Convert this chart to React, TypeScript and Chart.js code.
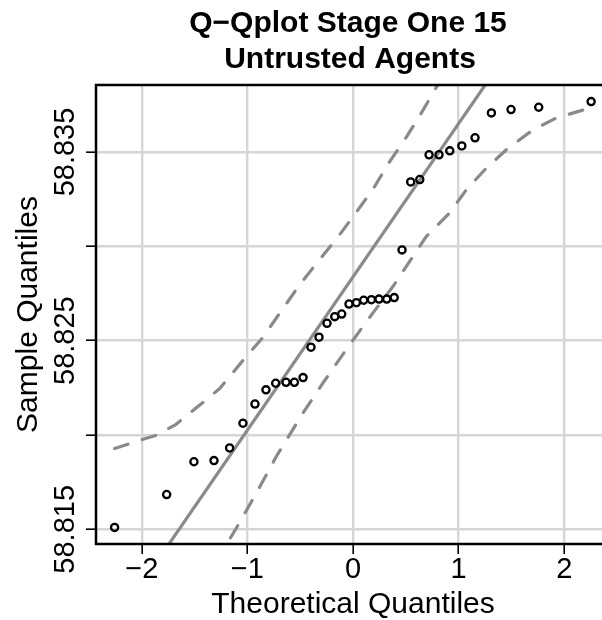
import React, { useEffect, useRef } from "react";
import { Chart, registerables } from "chart.js";

Chart.register(...registerables);

const titleLines = ["Q\u2212Qplot Stage One 15", "Untrusted Agents"];
const xTitle = "Theoretical Quantiles";
const yTitle = "Sample Quantiles";

const xTicks = [-2, -1, 0, 1, 2];
const xTickLabels = ["\u22122", "\u22121", "0", "1", "2"];
const yTicks = [58.815, 58.82, 58.825, 58.83, 58.835];
const yTickLabels = ["58.815", "", "58.825", "", "58.835"];

const theoretical = [
  -2.257, -1.764, -1.506, -1.316, -1.168, -1.042, -0.928, -0.824, -0.732,
  -0.634, -0.555, -0.473, -0.398, -0.322, -0.246, -0.173, -0.107, -0.038,
  0.032, 0.101, 0.174, 0.246, 0.319, 0.39, 0.464, 0.546, 0.632, 0.72, 0.814,
  0.916, 1.03, 1.155, 1.31, 1.496, 1.758, 2.254,
];
const sample = [
  58.8151, 58.81684, 58.81858, 58.81864, 58.81931, 58.82062, 58.82164,
  58.82239, 58.82274, 58.82279, 58.82279, 58.82304, 58.82465, 58.82518,
  58.82592, 58.82627, 58.82641, 58.82694, 58.82701, 58.82714, 58.82717,
  58.8272, 58.8272, 58.82728, 58.82981, 58.83341, 58.83354, 58.83485,
  58.83485, 58.83506, 58.83532, 58.83575, 58.83707, 58.83725, 58.83737,
  58.83767,
];

const qqIntercept = 58.82838;
const qqSlope = 0.008128;

const upperX = [
  -2.257, -2.0, -1.859, -1.679, -1.48, -1.262, -1.044, -0.855, -0.505, -0.126,
  0.0, 0.186, 0.347, 0.508, 0.66, 0.792, 1.01,
];
const upperY = [
  58.81928, 58.81975, 58.81999, 58.82055, 58.82145, 58.82246, 58.82394,
  58.82516, 58.82797, 58.83062, 58.83157, 58.833, 58.83449, 58.83581,
  58.83719, 58.83846, 58.84032,
];
const lowerX = [
  -1.3, -1.198, -1.104, -0.914, -0.725, -0.473, -0.284, -0.031, 0.189, 0.379,
  0.505, 0.695, 0.915, 1.073, 1.263, 1.452, 1.704, 1.925, 2.24,
];
const lowerY = [
  58.81323, 58.81419, 58.81507, 58.81693, 58.81887, 58.82117, 58.82276,
  58.82479, 58.82647, 58.82788, 58.82894, 58.83053, 58.83177, 58.833,
  58.83415, 58.83512, 58.83618, 58.8368, 58.83733,
];

const xMin = -2.433;
const xMax = 2.357;
const yMin = 58.81422;
const yMax = 58.83855;

const FONT = '"Liberation Sans", Arial, Helvetica, sans-serif';
const LINE_GRAY = "#8a8a8a";

const textPlugin = {
  id: "rText",
  afterDraw(chart: any) {
    const ctx = chart.ctx as CanvasRenderingContext2D;
    const { left, right, top, bottom } = chart.chartArea;
    const xs = chart.scales.x;
    const ys = chart.scales.y;
    ctx.save();
    ctx.strokeStyle = "#000";
    ctx.lineWidth = 2.5;
    ctx.beginPath();
    ctx.moveTo(right + 4, top);
    ctx.lineTo(left, top);
    ctx.lineTo(left, bottom);
    ctx.lineTo(right + 4, bottom);
    ctx.stroke();

    ctx.fillStyle = "#000";
    ctx.textAlign = "center";
    ctx.textBaseline = "alphabetic";
    ctx.font = `bold 30px ${FONT}`;
    ctx.fillText(titleLines[0], 348, 32);
    ctx.fillText(titleLines[1], 350, 68);

    ctx.font = `29px ${FONT}`;
    xTicks.forEach((v, i) => {
      ctx.fillText(xTickLabels[i], xs.getPixelForValue(v), 578);
    });
    ctx.font = `30px ${FONT}`;
    ctx.fillText(xTitle, 353, 613);

    ctx.font = `29px ${FONT}`;
    yTicks.forEach((v, i) => {
      if (!yTickLabels[i]) return;
      ctx.save();
      ctx.translate(74, ys.getPixelForValue(v));
      ctx.rotate(-Math.PI / 2);
      ctx.fillText(yTickLabels[i], 0, 0);
      ctx.restore();
    });

    ctx.font = `30px ${FONT}`;
    ctx.save();
    ctx.translate(36.5, (top + bottom) / 2);
    ctx.rotate(-Math.PI / 2);
    ctx.fillText(yTitle, 0, 0);
    ctx.restore();

    ctx.restore();
  },
};

export default function App() {
  const ref = useRef<HTMLCanvasElement>(null);
  useEffect(() => {
    if (!ref.current) return;
    const points = theoretical.map((x, i) => ({ x, y: sample[i] }));
    const qqLine = [xMin - 0.5, xMax + 0.5].map((x) => ({
      x,
      y: qqIntercept + qqSlope * x,
    }));
    const upper = upperX.map((x, i) => ({ x, y: upperY[i] }));
    const lower = lowerX.map((x, i) => ({ x, y: lowerY[i] }));
    const chart = new Chart(ref.current, {
      type: "scatter",
      data: {
        datasets: [
          {
            data: points,
            showLine: false,
            pointRadius: 3.6,
            pointBorderWidth: 2.3,
            pointBorderColor: "#000",
            pointBackgroundColor: "rgba(0,0,0,0)",
          },
          {
            data: qqLine,
            showLine: true,
            pointRadius: 0,
            borderColor: LINE_GRAY,
            borderWidth: 3.2,
          },
          {
            data: upper,
            showLine: true,
            pointRadius: 0,
            borderColor: LINE_GRAY,
            borderWidth: 3.2,
            borderDash: [14, 15],
            borderCapStyle: "round",
          },
          {
            data: lower,
            showLine: true,
            pointRadius: 0,
            borderColor: LINE_GRAY,
            borderWidth: 3.2,
            borderDash: [14, 15],
            borderCapStyle: "round",
          },
        ],
      },
      options: {
        animation: false,
        responsive: false,
        events: [],
        layout: { autoPadding: false, padding: { top: 85, left: 0, right: 0, bottom: 0 } },
        plugins: {
          legend: { display: false },
          tooltip: { enabled: false },
          title: { display: false },
        },
        scales: {
          x: {
            type: "linear",
            min: xMin,
            max: xMax,
            afterBuildTicks: (s: any) => {
              s.ticks = xTicks.map((value) => ({ value }));
            },
            afterFit: (s: any) => {
              s.height = 76;
            },
            ticks: { display: false },
            border: { display: false },
            grid: {
              color: "#d6d6d6",
              lineWidth: 2.4,
              drawTicks: true,
              tickLength: 10,
              tickColor: "#000",
              tickWidth: 1.6,
            },
          },
          y: {
            type: "linear",
            min: yMin,
            max: yMax,
            afterBuildTicks: (s: any) => {
              s.ticks = yTicks.map((value) => ({ value }));
            },
            afterFit: (s: any) => {
              s.width = 96;
            },
            ticks: { display: false },
            border: { display: false },
            grid: {
              color: "#d6d6d6",
              lineWidth: 2.4,
              drawTicks: true,
              tickLength: 10,
              tickColor: "#000",
              tickWidth: 1.6,
            },
          },
        },
      },
      plugins: [textPlugin],
    });
    return () => chart.destroy();
  }, []);
  return (
    <div style={{ position: "fixed", left: 0, top: 0, width: 602, height: 620, background: "#fff" }}>
      <canvas ref={ref} width={602} height={620} style={{ display: "block" }} />
    </div>
  );
}
